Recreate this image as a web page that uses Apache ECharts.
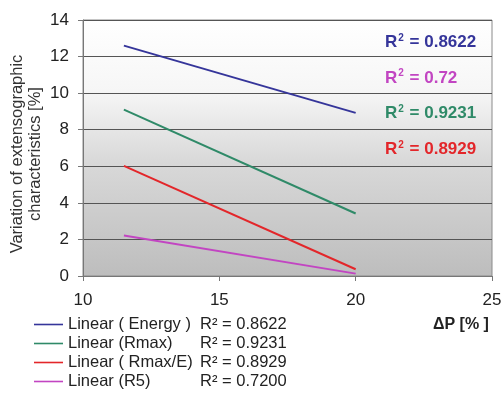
<!DOCTYPE html>
<html><head><meta charset="utf-8">
<script src="https://cdn.jsdelivr.net/npm/echarts@6/dist/echarts.min.js"></script>
<style>html,body{margin:0;padding:0;background:#fff}#c{width:504px;height:400px}</style>
</head><body><div id="c"></div>
<script>
var xTicks = [10, 15, 20, 25];
var yTicks = [0, 2, 4, 6, 8, 10, 12, 14];
var xValues = [11.5, 20];
var seriesNames = ['Linear ( Energy )', 'Linear (Rmax)', 'Linear ( Rmax/E)', 'Linear (R5)'];
var energy = [12.6, 8.92];
var rmax = [9.1, 3.42];
var rmaxE = [6.02, 0.37];
var r5 = [2.22, 0.13];
var r2Legend = ['R² = 0.8622', 'R² = 0.9231', 'R² = 0.8929', 'R² = 0.7200'];
var r2Labels = ['0.8622', '0.72', '0.9231', '0.8929'];
var colors = ['#35359a', '#2f8a68', '#e3262a', '#c245c2'];
var r2LabelColors = ['#35359a', '#c245c2', '#2f8a68', '#e3262a'];

var chart = echarts.init(document.getElementById('c'));
var allSeries = [energy, rmax, rmaxE, r5];
var series = allSeries.map(function (vals, i) {
  return {
    name: seriesNames[i], type: 'line', symbol: 'none',
    data: xValues.map(function (x, j) { return [x, vals[j]]; }),
    lineStyle: { color: colors[i], width: 2 },
    itemStyle: { color: colors[i] },
    z: 3
  };
});
var font = 'Liberation Sans, Arial, sans-serif';
var graphics = r2Labels.map(function (v, i) {
  return {
    type: 'text', left: 385, top: 33 + i * 35.6,
    style: {
      text: '{r|R}{s|2}{r| = ' + v + '}',
      rich: {
        r: { fontFamily: font, fontSize: 17, fontWeight: 'bold', fill: r2LabelColors[i], color: r2LabelColors[i] },
        s: { fontFamily: font, fontSize: 10, fontWeight: 'bold', fill: r2LabelColors[i], color: r2LabelColors[i], verticalAlign: 'top', padding: [0, 1, 9, 1] }
      }
    },
    z: 10
  };
});
graphics.push({
  type: 'text', left: 433, top: 317,
  style: { text: 'ΔP [% ]', fontFamily: font, fontSize: 16, fontWeight: 'bold', fill: '#222' }
});
graphics.push({
  type: 'text', x: 26, y: 154, rotation: Math.PI / 2,
  style: {
    text: 'Variation of extensographic\ncharacteristics [%]',
    fontFamily: font, fontSize: 16.5, lineHeight: 18, fill: '#333',
    align: 'center', verticalAlign: 'middle'
  }
});
var nameIdx = {};
seriesNames.forEach(function (n, i) { nameIdx[n] = i; });

chart.setOption({
  animation: false,
  textStyle: { fontFamily: font },
  color: colors,
  grid: {
    left: 83, right: 12, top: 20, bottom: 124,
    outerBoundsMode: 'none', containLabel: false,
    show: true, borderColor: '#8a8a8a', borderWidth: 1,
    backgroundColor: {
      type: 'linear', x: 0, y: 0, x2: 0, y2: 1,
      colorStops: [
        { offset: 0, color: '#ffffff' },
        { offset: 0.28, color: '#f6f6f6' },
        { offset: 0.55, color: '#d9d9d9' },
        { offset: 1, color: '#bdbdbd' }
      ]
    }
  },
  legend: {
    orient: 'vertical', left: 34, top: 316, itemGap: 2, padding: 0,
    itemWidth: 29, itemHeight: 16, icon: 'path://M0,7 L29,7 L29,8.6 L0,8.6 Z',
    data: seriesNames,
    formatter: function (name) {
      return '{a|' + name + '}{b|' + r2Legend[nameIdx[name]] + '}';
    },
    textStyle: {
      rich: {
        a: { fontFamily: font, fontSize: 16.5, color: '#222', width: 132 },
        b: { fontFamily: font, fontSize: 16.5, color: '#222' }
      }
    }
  },
  xAxis: {
    type: 'value', min: 10, max: 25, interval: 5,
    axisLine: { show: true, onZero: false, lineStyle: { color: '#777' } },
    axisTick: { show: true, length: 5, lineStyle: { color: '#777' } },
    axisLabel: { fontSize: 17, color: '#222', margin: 16,
      formatter: function (v) { return xTicks.indexOf(v) >= 0 ? String(v) : ''; } },
    splitLine: { show: false }
  },
  yAxis: {
    type: 'value', min: 0, max: 14, interval: 2,
    axisLine: { show: true, lineStyle: { color: '#777' } },
    axisTick: { show: true, length: 5, lineStyle: { color: '#777' } },
    axisLabel: { fontSize: 17, color: '#222', margin: 14,
      formatter: function (v) { return yTicks.indexOf(v) >= 0 ? String(v) : ''; } },
    splitLine: { show: true, lineStyle: { color: '#555', width: 1 } }
  },
  series: series,
  graphic: graphics
});
</script></body></html>
